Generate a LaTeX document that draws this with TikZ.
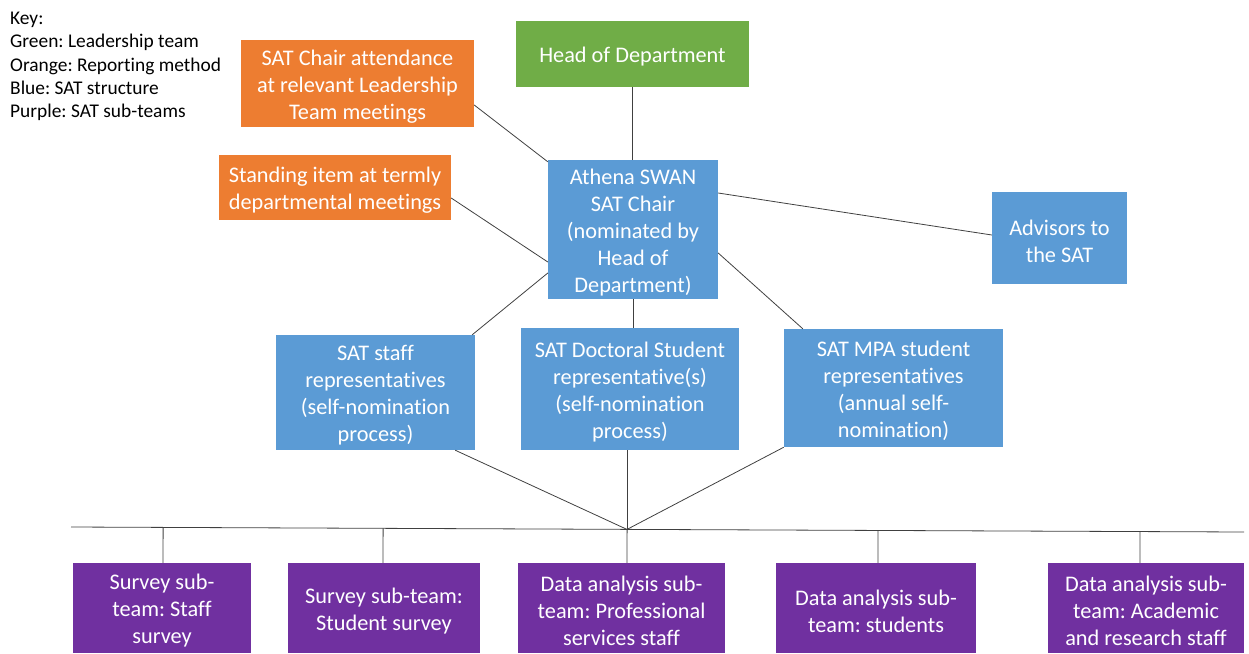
\documentclass[tikz,border=0pt]{standalone}
\usepackage{fontspec}
\setmainfont{Carlito}[Ligatures={NoCommon,NoContextual}]
\frenchspacing
\usetikzlibrary{calc}
\definecolor{leadgreen}{HTML}{70AD47}
\definecolor{reportorange}{HTML}{ED7D31}
\definecolor{satblue}{HTML}{5B9BD5}
\definecolor{subpurple}{HTML}{7030A0}
\tikzset{
  boxtext/.style={text=white, align=center, inner sep=0pt, yshift=-3pt,
    font=\fontsize{22.3}{27}\selectfont},
  box/.style={draw=none, inner sep=0pt, label={[boxtext]center:{#1}}},
  leadbox/.style={box={#1}, fill=leadgreen},
  reportbox/.style={box={#1}, fill=reportorange},
  satbox/.style={box={#1}, fill=satblue},
  subbox/.style={box={#1}, fill=subpurple, minimum height=90pt},
  link/.style={draw=black!75, line width=0.8pt}
}
\begin{document}
\begin{tikzpicture}[x=1pt,y=-1pt]
\useasboundingbox (0,0) rectangle (1249,653);
\clip (0,0) rectangle (1249,653);

% key
\node[anchor=north west, align=left, inner sep=0pt,
      font=\fontsize{19.4}{23.3}\selectfont] (key) at (10,12)
  {Key:\\Green: Leadership team\\Orange: Reporting method\\Blue: SAT structure\\Purple: SAT sub-teams};

% leadership and reporting
\node[leadbox={Head of Department}, minimum width=233pt, minimum height=66pt] (hod) at (632.5,54) {};
\node[reportbox={SAT Chair attendance\\at relevant Leadership\\Team meetings},
      minimum width=233pt, minimum height=87pt] (att) at (357.5,83.5) {};
\node[reportbox={Standing item at termly\\departmental meetings},
      minimum width=232pt, minimum height=65pt] (stand) at (335,187.5) {};

% SAT structure
\node[satbox={Athena SWAN\\SAT Chair\\(nominated by\\Head of\\Department)},
      minimum width=170pt, minimum height=139pt] (chair) at (633,229.5) {};
\node[satbox={Advisors to\\the SAT},
      minimum width=135pt, minimum height=92pt] (adv) at (1059.5,238) {};
\node[satbox={SAT staff\\representatives\\(self-nomination\\process)},
      minimum width=199pt, minimum height=115pt] (staff) at (375.5,392.5) {};
\node[satbox={SAT Doctoral Student\\representative(s)\\(self-nomination\\process)},
      minimum width=218pt, minimum height=122pt] (doc) at (630,389) {};
\node[satbox={SAT MPA student\\representatives\\(annual self-\\nomination)},
      minimum width=219pt, minimum height=118pt] (mpa) at (893.5,388) {};

% sub-teams
\node[subbox={Survey sub-\\team: Staff\\survey}, minimum width=178pt] (s1) at (162,608) {};
\node[subbox={Survey sub-team:\\Student survey}, minimum width=192pt] (s2) at (384,608) {};
\node[subbox={Data analysis sub-\\team: Professional\\services staff}, minimum width=207pt] (s3) at (621.5,608) {};
\node[subbox={Data analysis sub-\\team: students}, minimum width=200pt] (s4) at (876,608) {};
\node[subbox={Data analysis sub-\\team: Academic\\and research staff}, minimum width=196pt] (s5) at (1146,608) {};

% connectors around the chair
\draw[link] (hod.south) -- (chair.north -| hod.south);
\draw[link] ([yshift=-21.5pt]att.east) -- ([yshift=-2pt]chair.north west);
\draw[link] ([yshift=-10.5pt]stand.east) -- ([yshift=-32.5pt]chair.west);
\draw[link] ([yshift=-43.5pt]chair.west) -- ([xshift=-3pt]staff.north east);
\draw[link] ([yshift=36.5pt]chair.east) -- ([yshift=3pt]adv.west);
\draw[link] ([yshift=-23.5pt]chair.east) -- ([xshift=19pt]mpa.north west);
\draw[link] (chair.south) -- (chair.south |- doc.north);

% representatives down to the bus
\coordinate (busL) at (71,527);
\coordinate (busR) at (1244,532);
\coordinate (hub) at (627,529.4);
\draw[link] ([xshift=-20pt]staff.south east) -- (hub);
\draw[link] (hub |- doc.south) -- (hub);
\draw[link] (mpa.south west) -- (hub);
\draw[link] (busL) -- (busR);

% bus down to the sub-teams
\coordinate (t1) at ([xshift=1pt]s1.north);
\coordinate (t2) at ([xshift=-1pt]s2.north);
\coordinate (t3) at ([xshift=5.5pt]s3.north);
\coordinate (t4) at ([xshift=2pt]s4.north);
\coordinate (t5) at ([xshift=-6pt]s5.north);
\foreach \t in {t1,t2,t3,t4,t5}
  \draw[link] (\t) -- ($(busL)!(\t)!(busR)$);
\end{tikzpicture}
\end{document}
